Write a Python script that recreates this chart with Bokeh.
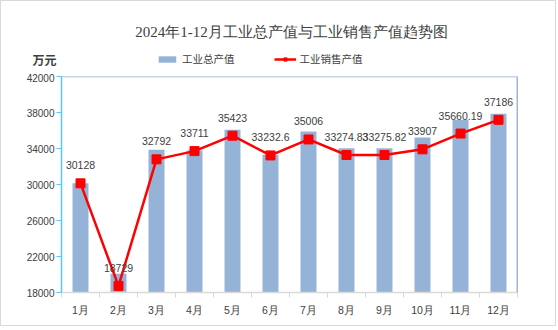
from bokeh.plotting import figure
from bokeh.layouts import column, row
from bokeh.models import (Range1d, FixedTicker, Span, Label, Legend, LegendItem, ColumnDataSource)
from bokeh.core.properties import value
from bokeh.embed import file_html
from bokeh.resources import INLINE

months = ["1月", "2月", "3月", "4月", "5月", "6月", "7月", "8月", "9月", "10月", "11月", "12月"]
gross_output = [30150, 20080, 33850, 33780, 36070, 33300, 35890, 34040, 34040, 35220, 37190, 37850]
sales_output = [30128, 18729, 32792, 33711, 35423, 33232.6, 35006, 33274.83, 33275.82, 33907, 35660.19, 37186]
sales_labels = ["30128", "18729", "32792", "33711", "35423", "33232.6", "35006", "33274.83", "33275.82", "33907", "35660.19", "37186"]
y_ticks = [18000, 22000, 26000, 30000, 34000, 38000, 42000]
title_text = "2024年1-12月工业总产值与工业销售产值趋势图"
unit_text = "万元"
series_names = ["工业总产值", "工业销售产值"]

BAR_COLOR = "#95b3d7"
LINE_COLOR = "#ff0000"
TEXT_COLOR = "#404040"

xs = list(range(1, len(months) + 1))
src = ColumnDataSource(dict(x=xs, gross=gross_output, sales=sales_output, lab=sales_labels))

# ---------- header strip (title, unit, legend) ----------
W = 554
HEAD_H = 72
head = figure(width=W, height=HEAD_H, output_backend="svg", toolbar_location=None,
              x_range=Range1d(0, W), y_range=Range1d(0, HEAD_H),
              x_axis_location=None, y_axis_location=None,
              min_border=0, min_border_left=0, min_border_right=0,
              min_border_top=0, min_border_bottom=0)
head.outline_line_color = None
head.xgrid.visible = False
head.ygrid.visible = False
head.background_fill_color = "white"
head.border_fill_color = "white"

# off-canvas proxies that only feed the legend swatches
proxy = ColumnDataSource(dict(x=[-100, -90], top=[-100, -90], y=[-100, -90]))
hb = head.vbar(x="x", top="top", bottom=-200, width=1, source=proxy,
               fill_color=BAR_COLOR, line_color=None)
hl = head.line(x="x", y="y", source=proxy, line_color=LINE_COLOR, line_width=2.5)
hm = head.scatter(x="x", y="y", source=proxy, marker="square", size=8,
                  fill_color=LINE_COLOR, line_color=LINE_COLOR)

head.add_layout(Label(x=290, y=HEAD_H - 30, text=title_text, text_align="center", text_baseline="middle",
                      text_font="Liberation Serif", text_font_size="15px", text_color=TEXT_COLOR))
head.add_layout(Label(x=43, y=HEAD_H - 58, text=unit_text, text_align="center", text_baseline="middle",
                      text_font_style="bold", text_font="Noto Sans CJK SC",
                      text_font_size="12px", text_color=TEXT_COLOR))
legend = Legend(items=[LegendItem(label=series_names[0], renderers=[hb]),
                       LegendItem(label=series_names[1], renderers=[hl, hm])],
                location=(155, 7), orientation="horizontal",
                glyph_width=22, glyph_height=8, label_standoff=4, spacing=39,
                padding=0, margin=0, border_line_color=None, background_fill_alpha=0,
                label_text_font="Noto Sans CJK SC", label_text_font_size="10.5px",
                label_text_color=TEXT_COLOR, label_height=14)
head.add_layout(legend)

# ---------- main chart ----------
p = figure(width=W, height=252, output_backend="svg", toolbar_location=None,
           x_range=Range1d(0.5, 12.5), y_range=Range1d(18000, 42000),
           min_border_left=60, min_border_right=38, min_border_top=3, min_border_bottom=33)
p.background_fill_color = "white"
p.border_fill_color = "white"
p.outline_line_color = None
p.xgrid.visible = False
p.ygrid.visible = False

p.vbar(x="x", top="gross", bottom=18000, width=0.42, source=src,
       fill_color=BAR_COLOR, line_color=None)
p.line(x="x", y="sales", source=src, line_color=LINE_COLOR, line_width=2.5)
p.scatter(x="x", y="sales", source=src, marker="square", size=9,
          fill_color=LINE_COLOR, line_color=LINE_COLOR)
p.text(x="x", y="sales", text="lab", source=src, y_offset=-18,
       text_align="center", text_baseline="middle",
       text_font=value("Liberation Sans"), text_font_size="10.5px", text_color=TEXT_COLOR)

xa = p.xaxis[0]
xa.ticker = FixedTicker(ticks=xs, minor_ticks=[i + 0.5 for i in range(0, 13)])
xa.major_label_overrides = {i: m for i, m in zip(xs, months)}
xa.major_tick_line_color = None
xa.major_tick_out = 5
xa.major_tick_in = 0
xa.minor_tick_line_color = "#d9d9d9"
xa.minor_tick_out = 5
xa.minor_tick_in = 0
xa.axis_line_color = "#d9d9d9"
xa.axis_line_width = 1.5
xa.major_label_standoff = 6
xa.major_label_text_font = "Liberation Sans"
xa.major_label_text_font_size = "10.5px"
xa.major_label_text_color = TEXT_COLOR

ya = p.yaxis[0]
ya.ticker = FixedTicker(ticks=y_ticks, minor_ticks=[])
ya.axis_line_color = "#5ec4f0"
ya.axis_line_width = 1.5
ya.major_tick_line_color = "#5ec4f0"
ya.major_tick_out = 5
ya.major_tick_in = 0
ya.minor_tick_line_color = None
ya.major_label_standoff = 2
ya.major_label_text_font = "Liberation Sans"
ya.major_label_text_font_size = "10px"
ya.major_label_text_color = TEXT_COLOR

p.add_layout(Span(location=42000, dimension="width", line_color="#8faacc", line_width=1.5))
p.add_layout(Span(location=12.5, dimension="height", line_color="#4a6ea5", line_width=1.5))

layout = column(row(head), row(p), spacing=0)
layout.styles = {"border": "1px solid #d9d9d9", "background-color": "white"}

open("out.html", "w").write(file_html(layout, INLINE))
